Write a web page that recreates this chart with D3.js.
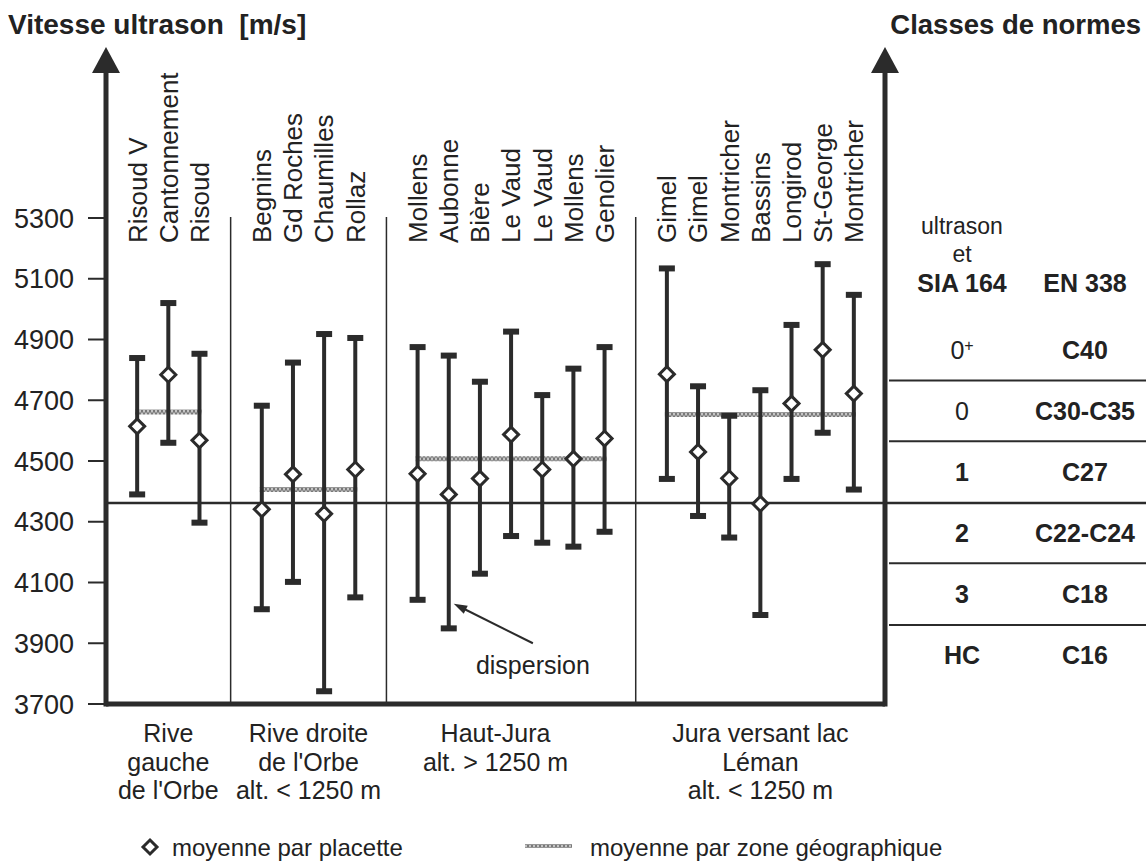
<!DOCTYPE html>
<html>
<head>
<meta charset="utf-8">
<script src="https://cdn.jsdelivr.net/npm/d3@7"></script>
<style>
  body { margin: 0; background: #fff; }
  text { font-family: "Liberation Sans", Arial, Helvetica, sans-serif; fill: #222; }
</style>
</head>
<body>
<div id="chart"></div>
<script>
// zones (bottom labels, one array of lines per zone)
var zones = [
    ["Rive", "gauche", "de l'Orbe"],
    ["Rive droite", "de l'Orbe", "alt. < 1250 m"],
    ["Haut-Jura", "alt. > 1250 m"],
    ["Jura versant lac", "Léman", "alt. < 1250 m"]
];
var zoneMeans = [4661, 4406, 4507, 4653];

// placettes
var sites     = ["Risoud V", "Cantonnement", "Risoud",
                 "Begnins", "Gd Roches", "Chaumilles", "Rollaz",
                 "Mollens", "Aubonne", "Bière", "Le Vaud", "Le Vaud", "Mollens", "Genolier",
                 "Gimel", "Gimel", "Montricher", "Bassins", "Longirod", "St-George", "Montricher"];
var siteZone  = [0, 0, 0, 1, 1, 1, 1, 2, 2, 2, 2, 2, 2, 2, 3, 3, 3, 3, 3, 3, 3];
var siteMean  = [4614, 4784, 4568, 4341, 4456, 4326, 4472, 4458, 4390, 4442, 4587, 4472, 4507, 4574,
                 4786, 4530, 4443, 4359, 4689, 4866, 4722];
var siteLow   = [4390, 4560, 4297, 4012, 4102, 3742, 4051, 4043, 3949, 4129, 4253, 4231, 4218, 4267,
                 4441, 4319, 4248, 3993, 4441, 4593, 4406];
var siteHigh  = [4839, 5020, 4853, 4682, 4824, 4918, 4905, 4875, 4847, 4761, 4926, 4717, 4804, 4875,
                 5134, 4746, 4649, 4733, 4948, 5148, 5047];

// y ticks
var yTicks = [3700, 3900, 4100, 4300, 4500, 4700, 4900, 5100, 5300];

// classes de normes (limits between rows, top to bottom)
var classLimits = [4965, 4765, 4565, 4362, 4163, 3960, 3760];
var classSIA = ["0", "0", "1", "2", "3", "HC"];
var classEN  = ["C40", "C30-C35", "C27", "C22-C24", "C18", "C16"];

var width = 1146, height = 866;
var ink = "#2b2b2b";

var svg = d3.select("#chart").append("svg")
    .attr("width", width)
    .attr("height", height);

var defs = svg.append("defs");
var hatch = defs.append("pattern")
    .attr("id", "hatch")
    .attr("patternUnits", "userSpaceOnUse")
    .attr("width", 4).attr("height", 6);
hatch.append("rect").attr("width", 4).attr("height", 6).attr("fill", "#c4c4c4");
hatch.append("path").attr("d", "M0,0L4,6M4,0L0,6").attr("stroke", "#6a6a6a").attr("stroke-width", 1);

// slot positions: groups separated by an empty slot
var slot = [], seps = [], zoneStart = [], zoneEnd = [];
var s = 1;
zones.forEach(function(z, g) {
    zoneStart.push(s - 1);
    siteZone.forEach(function(zz, i) {
        if (zz === g) { slot[i] = s; s++; }
    });
    seps.push(s);
    zoneEnd.push(s);
    s++;
});
var nSlots = seps[seps.length - 1];

var x = d3.scaleLinear().domain([0, nSlots]).range([106, 885]);
var y = d3.scaleLinear().domain([3700, 5300]).range([704, 218]);

// titles
svg.append("text").attr("x", 8).attr("y", 34)
    .attr("font-size", 28).attr("font-weight", "bold")
    .style("white-space", "pre")
    .text("Vitesse ultrason  [m/s]");
svg.append("text").attr("x", 1141).attr("y", 34)
    .attr("text-anchor", "end")
    .attr("font-size", 27.5).attr("font-weight", "bold")
    .text("Classes de normes");

// y axis ticks and labels
svg.selectAll(".tick").data(yTicks).enter().append("line")
    .attr("x1", 88).attr("x2", x(0))
    .attr("y1", function(d) { return y(d); })
    .attr("y2", function(d) { return y(d); })
    .attr("stroke", ink).attr("stroke-width", 2);
svg.selectAll(".tlab").data(yTicks).enter().append("text")
    .attr("x", 74)
    .attr("y", function(d) { return y(d); })
    .attr("dy", "0.36em")
    .attr("text-anchor", "end")
    .attr("font-size", 27)
    .text(function(d) { return d; });

// zone separators
svg.selectAll(".sep").data(seps.slice(0, -1)).enter().append("line")
    .attr("x1", function(d) { return x(d); })
    .attr("x2", function(d) { return x(d); })
    .attr("y1", y(5300) - 1).attr("y2", y(3700))
    .attr("stroke", ink).attr("stroke-width", 1.5);

// class limit lines on the right
svg.selectAll(".cl").data(classLimits.slice(1, -1)).enter().append("line")
    .attr("x1", function(d) { return d === classLimits[3] ? x(0) : x(nSlots) + 4; })
    .attr("x2", width)
    .attr("y1", function(d) { return y(d); })
    .attr("y2", function(d) { return y(d); })
    .attr("stroke", ink)
    .attr("stroke-width", function(d) { return d === classLimits[3] ? 2.5 : 2; });

// class table
var colSIA = 962, colEN = 1085;
svg.append("text").attr("x", colSIA).attr("y", 234).attr("text-anchor", "middle")
    .attr("font-size", 23).text("ultrason");
svg.append("text").attr("x", colSIA).attr("y", 262).attr("text-anchor", "middle")
    .attr("font-size", 23).text("et");
svg.append("text").attr("x", colSIA).attr("y", 292).attr("text-anchor", "middle")
    .attr("font-size", 25).attr("font-weight", "bold").text("SIA 164");
svg.append("text").attr("x", colEN).attr("y", 292).attr("text-anchor", "middle")
    .attr("font-size", 25).attr("font-weight", "bold").text("EN 338");

var rows = classSIA.map(function(c, i) {
    return {sia: c, en: classEN[i], mid: (classLimits[i] + classLimits[i + 1]) / 2, i: i};
});
var siaText = svg.selectAll(".sia").data(rows).enter().append("text")
    .attr("x", colSIA)
    .attr("y", function(d) { return y(d.mid); })
    .attr("dy", "0.36em")
    .attr("text-anchor", "middle")
    .attr("font-size", 25)
    .attr("font-weight", function(d) { return d.i < 2 ? "normal" : "bold"; })
    .text(function(d) { return d.sia; });
siaText.filter(function(d) { return d.i === 0; })
    .append("tspan").attr("font-size", 16).attr("dy", "-0.5em").text("+");
svg.selectAll(".en").data(rows).enter().append("text")
    .attr("x", colEN)
    .attr("y", function(d) { return y(d.mid); })
    .attr("dy", "0.36em")
    .attr("text-anchor", "middle")
    .attr("font-size", 25)
    .attr("font-weight", "bold")
    .text(function(d) { return d.en; });

// zone mean lines
svg.selectAll(".zmean").data(zoneMeans).enter().append("line")
    .attr("x1", function(d, g) { return x(zoneStart[g] + 1) - 2; })
    .attr("x2", function(d, g) { return x(zoneEnd[g] - 1) + 2; })
    .attr("y1", function(d) { return y(d); })
    .attr("y2", function(d) { return y(d); })
    .attr("stroke", "url(#hatch)").attr("stroke-width", 5);

// error bars
var bars = svg.selectAll(".bar").data(sites).enter().append("g");
bars.append("line")
    .attr("x1", function(d, i) { return x(slot[i]); })
    .attr("x2", function(d, i) { return x(slot[i]); })
    .attr("y1", function(d, i) { return y(siteLow[i]); })
    .attr("y2", function(d, i) { return y(siteHigh[i]); })
    .attr("stroke", ink).attr("stroke-width", 4);
[siteLow, siteHigh].forEach(function(arr) {
    bars.append("rect")
        .attr("x", function(d, i) { return x(slot[i]) - 8; })
        .attr("y", function(d, i) { return y(arr[i]) - 3; })
        .attr("width", 16).attr("height", 6)
        .attr("fill", ink);
});
bars.append("path")
    .attr("d", function(d, i) {
        var cx = x(slot[i]), cy = y(siteMean[i]), r = 7.5;
        return "M" + cx + "," + (cy - r) + "L" + (cx + r) + "," + cy +
               "L" + cx + "," + (cy + r) + "L" + (cx - r) + "," + cy + "Z";
    })
    .attr("fill", "#fff").attr("stroke", ink).attr("stroke-width", 3);

// site labels (vertical)
svg.selectAll(".slab").data(sites).enter().append("text")
    .attr("transform", function(d, i) { return "translate(" + x(slot[i]) + "," + 243 + ") rotate(-90)"; })
    .attr("dy", "0.36em")
    .attr("font-size", 26)
    .text(function(d) { return d; });

// axes with arrows
var axisTop = 73;
[0, nSlots].forEach(function(v) {
    svg.append("line")
        .attr("x1", x(v)).attr("x2", x(v))
        .attr("y1", y(3700) + 2.5).attr("y2", axisTop)
        .attr("stroke", ink).attr("stroke-width", 5);
    svg.append("path")
        .attr("d", "M" + x(v) + ",47L" + (x(v) + 14) + "," + axisTop + "L" + (x(v) - 14) + "," + axisTop + "Z")
        .attr("fill", ink);
});
svg.append("line")
    .attr("x1", x(0)).attr("x2", x(nSlots))
    .attr("y1", y(3700)).attr("y2", y(3700))
    .attr("stroke", ink).attr("stroke-width", 5);

// zone labels
var zoneLabelSlot = [2, 6.5, 12.5, 21];
zones.forEach(function(lines, g) {
    svg.append("text")
        .attr("x", x(zoneLabelSlot[g]))
        .attr("y", 742)
        .attr("text-anchor", "middle")
        .attr("font-size", 25)
        .selectAll("tspan").data(lines).enter().append("tspan")
        .attr("x", x(zoneLabelSlot[g]))
        .attr("dy", function(d, i) { return i === 0 ? 0 : 28.5; })
        .text(function(d) { return d; });
});

// dispersion annotation
var ax = x(slot[8]) + 5, ay = y(4030);
var tx = x(13.7), ty = y(3900);
svg.append("line")
    .attr("x1", tx).attr("y1", ty)
    .attr("x2", ax + 8).attr("y2", ay + 4)
    .attr("stroke", ink).attr("stroke-width", 2);
svg.append("path")
    .attr("d", "M" + ax + "," + ay + "L" + (ax + 14) + "," + (ay + 2) + "L" + (ax + 10) + "," + (ay + 10) + "Z")
    .attr("fill", ink);
svg.append("text")
    .attr("x", x(13.7)).attr("y", y(3828))
    .attr("dy", "0.36em")
    .attr("text-anchor", "middle")
    .attr("font-size", 25)
    .text("dispersion");

// legend
svg.append("path")
    .attr("d", "M150,840L157,847L150,854L143,847Z")
    .attr("fill", "#fff").attr("stroke", ink).attr("stroke-width", 3);
svg.append("text").attr("x", 172).attr("y", 856).attr("font-size", 24)
    .text("moyenne par placette");
svg.append("line").attr("x1", 525).attr("x2", 572).attr("y1", 846).attr("y2", 846)
    .attr("stroke", "url(#hatch)").attr("stroke-width", 4);
svg.append("text").attr("x", 590).attr("y", 856).attr("font-size", 24)
    .text("moyenne par zone géographique");
</script>
</body>
</html>
